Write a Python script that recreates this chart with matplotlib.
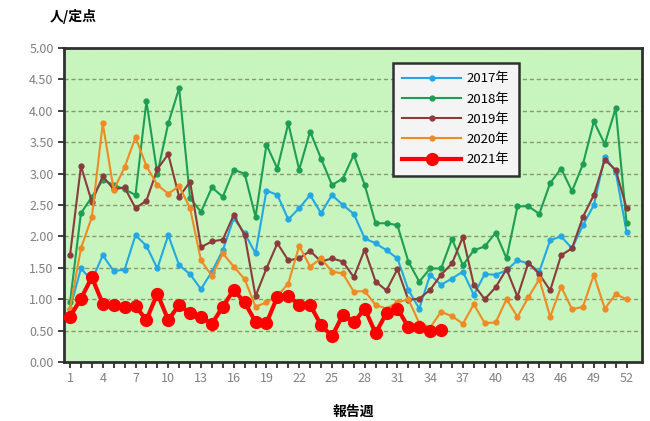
import matplotlib
matplotlib.use("Agg")
import matplotlib.pyplot as plt

plt.rcParams['font.family'] = ['Noto Sans CJK JP', 'DejaVu Sans']

# 報告週
weeks = list(range(1, 53))

y2017 = [0.85, 1.49, 1.30, 1.70, 1.45, 1.47, 2.02, 1.85, 1.49, 2.02,
         1.54, 1.40, 1.16, 1.44, 1.78, 2.29, 2.05, 1.73, 2.73, 2.66,
         2.27, 2.45, 2.66, 2.37, 2.66, 2.50, 2.36, 1.97, 1.89, 1.78,
         1.65, 1.15, 0.85, 1.39, 1.23, 1.33, 1.44, 1.07, 1.40, 1.39,
         1.46, 1.62, 1.57, 1.44, 1.94, 2.00, 1.81, 2.18, 2.50, 3.27,
         3.03, 2.07]
y2018 = [0.95, 2.37, 2.63, 2.90, 2.82, 2.75, 2.66, 4.15, 3.00, 3.80,
         4.36, 2.61, 2.39, 2.78, 2.63, 3.06, 3.00, 2.31, 3.46, 3.08,
         3.80, 3.06, 3.67, 3.24, 2.82, 2.92, 3.30, 2.82, 2.21, 2.21,
         2.18, 1.60, 1.28, 1.49, 1.49, 1.96, 1.54, 1.78, 1.84, 2.06,
         1.65, 2.48, 2.48, 2.36, 2.85, 3.08, 2.72, 3.15, 3.83, 3.47,
         4.04, 2.21]
y2019 = [1.70, 3.12, 2.55, 2.96, 2.75, 2.78, 2.45, 2.57, 3.07, 3.31,
         2.63, 2.87, 1.83, 1.92, 1.95, 2.34, 2.02, 1.05, 1.49, 1.89,
         1.62, 1.65, 1.77, 1.60, 1.65, 1.60, 1.35, 1.79, 1.28, 1.14,
         1.48, 0.99, 1.01, 1.15, 1.39, 1.57, 1.99, 1.23, 1.00, 1.19,
         1.48, 1.04, 1.58, 1.40, 1.14, 1.70, 1.81, 2.31, 2.66, 3.22,
         3.06, 2.45]
y2020 = [0.85, 1.81, 2.31, 3.80, 2.74, 3.10, 3.58, 3.12, 2.82, 2.68,
         2.80, 2.45, 1.62, 1.37, 1.73, 1.52, 1.32, 0.88, 0.95, 1.05,
         1.25, 1.85, 1.52, 1.65, 1.44, 1.41, 1.12, 1.13, 0.91, 0.85,
         0.95, 1.00, 0.62, 0.55, 0.80, 0.73, 0.61, 0.92, 0.62, 0.63,
         1.00, 0.72, 1.03, 1.32, 0.72, 1.20, 0.84, 0.88, 1.39, 0.85,
         1.08, 1.00]
y2021 = [0.72, 1.01, 1.35, 0.93, 0.91, 0.87, 0.89, 0.67, 1.09, 0.67,
         0.91, 0.78, 0.72, 0.61, 0.88, 1.15, 0.95, 0.64, 0.62, 1.04,
         1.05, 0.91, 0.91, 0.59, 0.41, 0.75, 0.63, 0.85, 0.46, 0.78,
         0.85, 0.56, 0.56, 0.50, 0.51]

yticks = [i * 0.5 for i in range(11)]
xticks = list(range(1, 53, 3))

fig = plt.figure(figsize=(6.5, 4.21), dpi=100)
ax = fig.add_axes([0.0985, 0.140, 0.889, 0.746])
ax.set_facecolor('#c8f5bd')

# 各年の折れ線
ax.plot(weeks, y2017, color='#23a8e6', marker='o', markersize=3.5, linewidth=1.5, label='2017年', zorder=3)
ax.plot(weeks, y2018, color='#1e9e55', marker='o', markersize=3.5, linewidth=1.5, label='2018年', zorder=3)
ax.plot(weeks, y2019, color='#8b3b3b', marker='o', markersize=3.5, linewidth=1.5, label='2019年', zorder=3)
ax.plot(weeks, y2020, color='#ef8a25', marker='o', markersize=3.5, linewidth=1.5, label='2020年', zorder=3)
ax.plot(weeks[:len(y2021)], y2021, color='#ff0000', marker='o', markersize=8.5, linewidth=3, label='2021年', zorder=4)

ax.set_xlim(0.45, 53.4)
ax.set_ylim(0, 5)
ax.set_yticks(yticks)
ax.set_yticklabels([f'{v:.2f}' for v in yticks], fontsize=9, color='#808080')
ax.set_xticks(weeks, minor=True)
ax.set_xticks(xticks)
ax.set_xticklabels([str(v) for v in xticks], fontsize=9, color='#808080')
ax.tick_params(axis='x', which='both', direction='out', length=4, color='#202020', width=1.2)
ax.tick_params(axis='y', direction='out', length=4, color='#202020', width=1.2)

ax.yaxis.grid(True, linestyle=(0, (3, 2)), color='#8a9a6a', linewidth=1.0, zorder=1)
ax.set_axisbelow(True)

for s in ax.spines.values():
    s.set_color('#303030')
    s.set_linewidth(2.0)

ax.text(-0.025, 1.10, '人/定点', transform=ax.transAxes, fontsize=10, fontweight='bold', ha='left', va='center')
ax.set_xlabel('報告週', fontsize=10, fontweight='bold', labelpad=14)

leg = ax.legend(loc='upper left', bbox_to_anchor=(0.569, 0.952), fontsize=9.5, frameon=True,
                fancybox=False, handlelength=4.5, labelspacing=0.55, borderpad=0.7,
                borderaxespad=0, handletextpad=0.4)
leg.get_frame().set_edgecolor('#303030')
leg.get_frame().set_linewidth(1.8)
leg.get_frame().set_facecolor('#f4f4f4')
leg.get_frame().set_alpha(1)

fig.savefig('out.png', dpi=100)
